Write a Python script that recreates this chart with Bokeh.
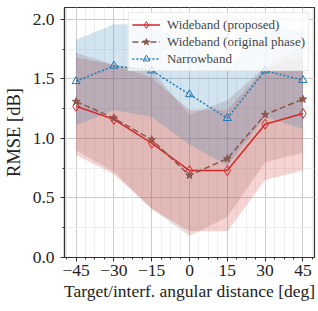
from bokeh.plotting import figure
from bokeh.models import FixedTicker, Range1d, ColumnDataSource, Legend, LegendItem
from bokeh.embed import file_html
from bokeh.resources import INLINE

# ---- data ----
angles = [-45, -30, -15, 0, 15, 30, 45]
prop_mean = [1.27, 1.16, 0.96, 0.73, 0.73, 1.12, 1.21]
prop_lo = [0.86, 0.70, 0.41, 0.22, 0.22, 0.65, 0.73]
prop_hi = [1.68, 1.62, 1.51, 1.24, 1.24, 1.59, 1.69]
orig_mean = [1.31, 1.17, 0.99, 0.69, 0.83, 1.20, 1.33]
orig_lo = [0.90, 0.72, 0.41, 0.18, 0.34, 0.80, 0.88]
orig_hi = [1.72, 1.62, 1.57, 1.20, 1.32, 1.60, 1.78]
narrow_mean = [1.48, 1.61, 1.57, 1.37, 1.17, 1.57, 1.49]
narrow_lo = [1.11, 1.24, 1.18, 0.95, 0.77, 1.18, 1.08]
narrow_hi = [1.83, 1.96, 1.96, 1.79, 1.58, 1.96, 1.90]
x_ticks = [-45, -30, -15, 0, 15, 30, 45]
x_tick_labels = ["\u221245", "\u221230", "\u221215", "0", "15", "30", "45"]
x_minor = [-48.75 + 3.75 * i for i in range(27)]
y_ticks = [0.0, 0.5, 1.0, 1.5, 2.0]
y_tick_labels = ["0.0", "0.5", "1.0", "1.5", "2.0"]
y_minor = [0.25 * i for i in range(9)]

FONT = "Liberation Serif"
RED, BROWN, BLUE = "#d62728", "#8c564b", "#1f77b4"

p = figure(frame_width=250, frame_height=250, output_backend="svg",
           toolbar_location=None, x_range=Range1d(-49.6, 49.6),
           y_range=Range1d(0, 2.1),
           min_border_left=60, min_border_right=8, min_border_top=7,
           min_border_bottom=54)
p.background_fill_color = "white"
p.outline_line_color = "#333333"
p.outline_line_width = 1.2

src = ColumnDataSource(dict(x=angles, pm=prop_mean, pl=prop_lo, ph=prop_hi,
                            om=orig_mean, ol=orig_lo, oh=orig_hi,
                            nm=narrow_mean, nl=narrow_lo, nh=narrow_hi))

p.varea(x="x", y1="pl", y2="ph", source=src, fill_color=RED, fill_alpha=0.2)
p.varea(x="x", y1="ol", y2="oh", source=src, fill_color=BROWN, fill_alpha=0.2)
p.varea(x="x", y1="nl", y2="nh", source=src, fill_color=BLUE, fill_alpha=0.2)

l1 = p.line(x="x", y="pm", source=src, line_color=RED, line_width=1.5)
m1 = p.scatter(x="x", y="pm", source=src, marker="diamond", size=10,
               line_color=RED, fill_alpha=0, line_width=1)
l2 = p.line(x="x", y="om", source=src, line_color=BROWN, line_width=1.5,
            line_dash="6 3")
m2 = p.scatter(x="x", y="om", source=src, marker="star", size=8,
               line_color=BROWN, fill_color=BROWN, line_width=1)
l3 = p.line(x="x", y="nm", source=src, line_color=BLUE, line_width=1.5,
            line_dash="2 2")
m3 = p.scatter(x="x", y="nm", source=src, marker="triangle", size=8,
               line_color=BLUE, fill_alpha=0, line_width=1)

legend = Legend(items=[
    LegendItem(label="Wideband (proposed)", renderers=[l1, m1]),
    LegendItem(label="Wideband (original phase)", renderers=[l2, m2]),
    LegendItem(label="Narrowband", renderers=[l3, m3]),
], location="top_right")
legend.margin = 5
legend.padding = 3
legend.spacing = 0
legend.label_text_font = FONT
legend.label_text_font_size = "13px"
legend.label_height = 17
legend.glyph_height = 17
legend.glyph_width = 28
legend.label_standoff = 7
legend.background_fill_alpha = 0.8
legend.border_line_color = "#d8d8d8"
legend.border_line_width = 1
p.add_layout(legend)

p.xaxis.ticker = FixedTicker(ticks=x_ticks, minor_ticks=x_minor)
p.xaxis.major_label_overrides = {t: s for t, s in zip(x_ticks, x_tick_labels)}
p.yaxis.ticker = FixedTicker(ticks=y_ticks, minor_ticks=y_minor)
p.yaxis.major_label_overrides = {t: s for t, s in zip(y_ticks, y_tick_labels)}
p.xgrid.ticker = p.xaxis.ticker
p.ygrid.ticker = p.yaxis.ticker

for ax in (p.xaxis[0], p.yaxis[0]):
    ax.axis_line_color = "#333333"
    ax.axis_line_width = 1.2
    ax.major_tick_line_color = "#333333"
    ax.minor_tick_line_color = "#333333"
    ax.major_tick_out = 4
    ax.major_tick_in = 0
    ax.minor_tick_out = 2
    ax.minor_tick_in = 0
    ax.major_label_text_font = FONT
    ax.major_label_text_font_size = "17.5px"
    ax.major_label_text_color = "#222222"
    ax.axis_label_text_font = FONT
    ax.axis_label_text_font_style = "normal"
    ax.axis_label_text_color = "#222222"

p.xaxis.axis_label_text_font_size = "17.5px"
p.yaxis.axis_label_text_font_size = "18.5px"
p.xaxis.axis_label = "Target/interf. angular distance [deg]"
p.yaxis.axis_label = "RMSE [dB]"
p.xaxis.major_label_standoff = 3
p.xaxis.axis_label_standoff = 2
p.yaxis.major_label_standoff = 6
p.yaxis.axis_label_standoff = 6

p.xgrid.grid_line_color = "#cccccc"
p.ygrid.grid_line_color = "#cccccc"
p.xgrid.grid_line_width = 1
p.ygrid.grid_line_width = 1
p.xgrid.minor_grid_line_color = "#ebebeb"
p.ygrid.minor_grid_line_color = "#ebebeb"
p.xgrid.minor_grid_line_width = 0.8
p.ygrid.minor_grid_line_width = 0.8

open("out.html", "w").write(file_html(p, INLINE))
